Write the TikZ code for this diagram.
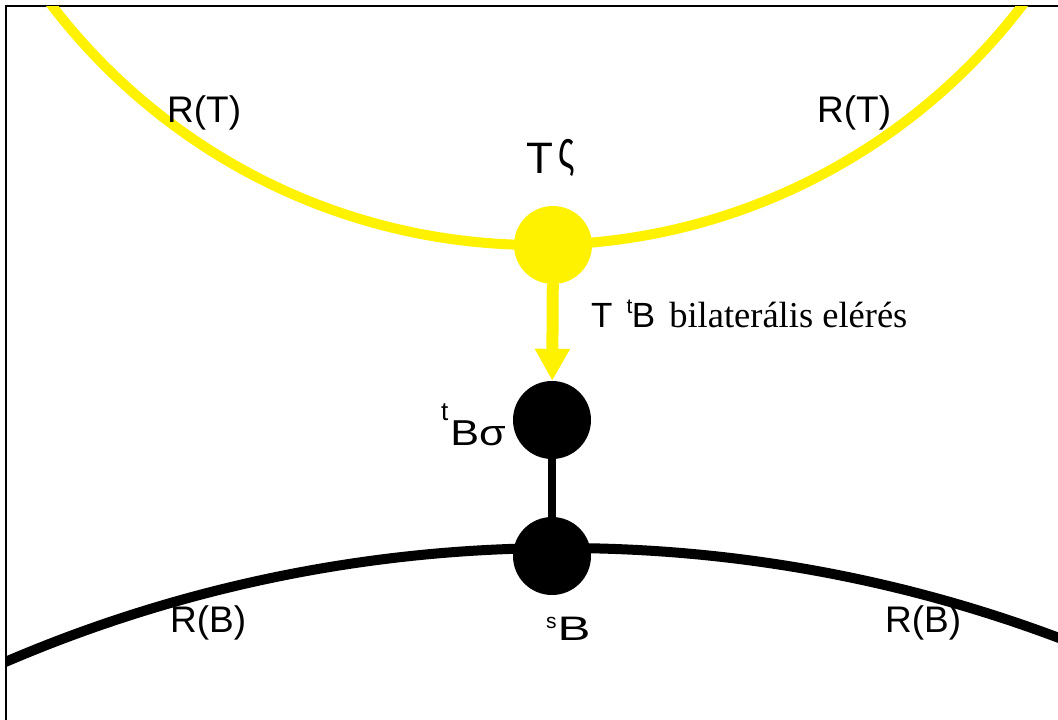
\documentclass[tikz,border=0pt]{standalone}
\usepackage{fontspec}
\setmainfont{Liberation Sans}
\newfontfamily\serifpart{Liberation Serif}
\usetikzlibrary{arrows.meta}
% raised small letter: #1 raise, #2 size, #3 text
\newcommand{\supsmall}[3]{\raisebox{#1}{\fontsize{#2}{#2}\selectfont #3}}
\begin{document}
\begin{tikzpicture}[x=1pt,y=-1pt,
  lbl/.style={font=\fontsize{37}{40}\selectfont, inner sep=0pt, anchor=base west},
  dot/.style={circle, inner sep=0pt, minimum size=78pt},
  ]
\useasboundingbox (0,0) rectangle (1058,720);
\fill[white] (0,0) rectangle (1058,720);
\draw[line width=2pt] (6,720) -- (6,6) -- (1058,6);
% the two reach curves, clipped to the frame
\begin{scope}
  \clip (6,6) rectangle (1058,720);
  \draw[yellow, line width=10pt] (537,-366) circle[radius=611pt];
  \draw[line width=10pt] (562,1960) circle[radius=1412pt];
\end{scope}
% points
\node[dot, fill=yellow] (ts) at (553,245) {};
\node[dot, fill=black] (bs) at (552,420) {};
\node[dot, fill=black] (sb) at (552,556) {};
\draw[line width=8pt] (bs) -- (sb);
\draw[yellow, line width=12pt, -{Triangle[width=33pt,length=32pt]}] (ts) -- (bs);
% labels
\node[lbl] (rt1) at (167,122) {R(T)};
\node[lbl] (rt2) at (817,122) {R(T)};
\node[lbl] (rb1) at (170,632) {R(B)};
\node[lbl] (rb2) at (885,632) {R(B)};
\node[anchor=base west, inner sep=0pt, font=\fontsize{44}{48}\selectfont] (tslbl) at (526,173)
  {T\hspace{5pt}\raisebox{5.5pt}{\scalebox{0.78}[1.19]{ς}}};
\node[anchor=base west, inner sep=0pt, font=\fontsize{36}{40}\selectfont] (bslbl) at (441,445)
  {\supsmall{25pt}{26}{t}\hspace{2pt}\scalebox{1.2}[1]{Bσ}};
\node[anchor=base west, inner sep=0pt, font=\fontsize{34}{40}\selectfont] (sblbl) at (546,640)
  {\supsmall{12pt}{21}{s}\hspace{1pt}\scalebox{1.45}[1]{B}};
\node[anchor=base west, inner sep=0pt, font=\fontsize{35}{40}\selectfont] (reach) at (591,327)
  {T\hspace{14pt}\supsmall{14pt}{21}{t}\hspace{-0.5pt}B\hspace{14pt}{\serifpart\fontsize{36.5}{40}\selectfont bilaterális elérés}};
\end{tikzpicture}
\end{document}
